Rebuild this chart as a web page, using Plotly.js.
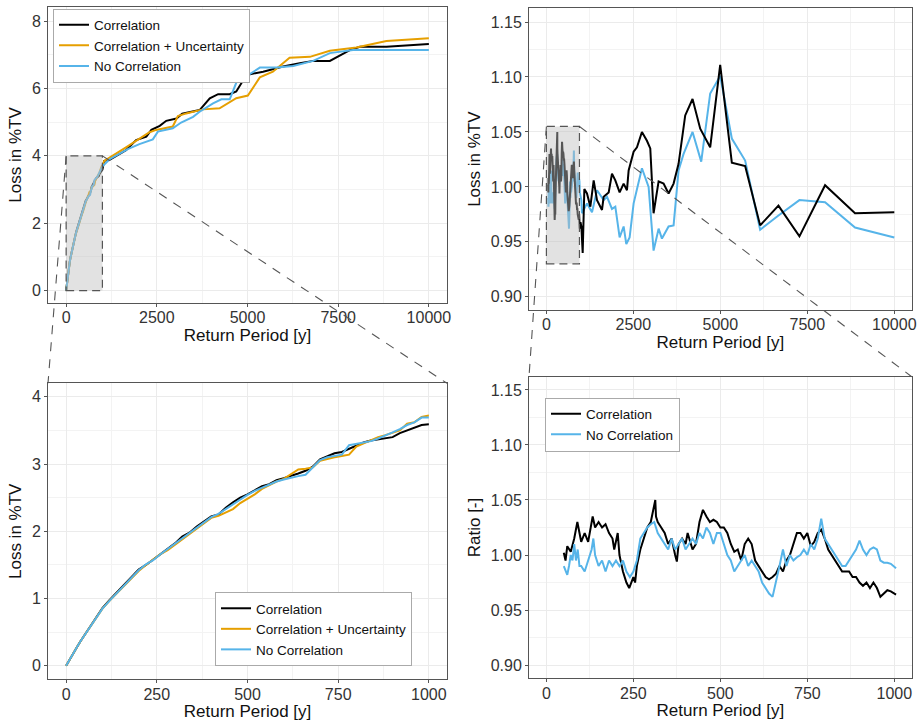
<!DOCTYPE html>
<html>
<head>
<meta charset="utf-8">
<script src="https://cdn.plot.ly/plotly-3.0.1.min.js"></script>
<style>html,body{margin:0;padding:0;background:#fff;}#chart{width:923px;height:724px;}</style>
</head>
<body>
<div id="chart"></div>
<script>
// ---------- Data ----------
var seriesNames = ["Correlation", "Correlation + Uncertainty", "No Correlation"];

// Loss curves 0-1000 y (bottom-left panel, also start of top-left panel)
var rpZoom = [0, 10, 20, 30, 40, 50, 60, 70, 80, 90, 100, 120, 140, 160, 180, 200, 220, 240, 260, 280, 300, 320, 340, 360, 380, 400, 420, 440, 460, 480, 500, 520, 540, 560, 580, 600, 620, 640, 660, 680, 700, 720, 740, 760, 780, 800, 820, 840, 860, 880, 900, 920, 940, 960, 980, 1000];
var lossCorrZoom = [0, 0.10, 0.19, 0.28, 0.37, 0.45, 0.54, 0.63, 0.71, 0.79, 0.86, 0.98, 1.09, 1.20, 1.31, 1.43, 1.50, 1.58, 1.66, 1.75, 1.82, 1.92, 1.98, 2.07, 2.14, 2.22, 2.25, 2.35, 2.43, 2.50, 2.55, 2.61, 2.67, 2.70, 2.76, 2.79, 2.82, 2.86, 2.90, 2.96, 3.07, 3.12, 3.16, 3.18, 3.23, 3.28, 3.32, 3.35, 3.37, 3.38, 3.40, 3.46, 3.50, 3.53, 3.58, 3.59];
var lossUncZoom = [0, 0.10, 0.19, 0.28, 0.37, 0.45, 0.54, 0.62, 0.70, 0.78, 0.85, 0.97, 1.08, 1.18, 1.30, 1.41, 1.50, 1.58, 1.66, 1.72, 1.80, 1.87, 1.96, 2.04, 2.12, 2.20, 2.23, 2.28, 2.33, 2.42, 2.48, 2.55, 2.63, 2.69, 2.74, 2.78, 2.85, 2.92, 2.93, 2.95, 3.05, 3.08, 3.10, 3.12, 3.14, 3.26, 3.31, 3.35, 3.40, 3.43, 3.46, 3.50, 3.60, 3.62, 3.70, 3.72];
var lossNoCorrZoom = [0, 0.10, 0.19, 0.28, 0.37, 0.45, 0.54, 0.62, 0.70, 0.78, 0.85, 0.97, 1.08, 1.19, 1.30, 1.42, 1.51, 1.57, 1.66, 1.74, 1.81, 1.90, 1.97, 2.06, 2.13, 2.21, 2.26, 2.33, 2.41, 2.48, 2.54, 2.60, 2.65, 2.69, 2.74, 2.77, 2.80, 2.82, 2.84, 2.95, 3.06, 3.10, 3.12, 3.14, 3.28, 3.30, 3.32, 3.34, 3.38, 3.42, 3.47, 3.52, 3.58, 3.62, 3.69, 3.69];

// Loss curves beyond 1000 y (top-left panel)
var rpCorrTail = [1050, 1200, 1650, 1930, 2210, 2350, 2580, 2760, 3040, 3200, 3680, 3960, 4190, 4510, 4690, 4970, 5430, 5980, 6440, 6810, 7270, 7820, 8100, 8830, 10000];
var lossCorrTail = [3.85, 3.88, 4.17, 4.47, 4.57, 4.77, 4.89, 5.04, 5.11, 5.25, 5.36, 5.71, 5.83, 5.83, 5.91, 6.40, 6.50, 6.65, 6.75, 6.82, 6.82, 7.14, 7.24, 7.24, 7.32];
var rpUncTail = [1050, 1650, 2300, 2480, 2940, 3080, 3310, 3770, 4230, 4690, 5010, 5340, 5700, 6160, 6720, 7270, 8000, 8830, 10000];
var lossUncTail = [3.85, 4.25, 4.70, 4.77, 4.87, 5.18, 5.26, 5.38, 5.41, 5.71, 5.79, 6.33, 6.50, 6.91, 6.94, 7.12, 7.22, 7.41, 7.49];
var rpNoCorrTail = [1200, 1700, 2020, 2390, 2530, 2940, 3170, 3500, 3680, 4050, 4280, 4510, 4690, 5010, 5340, 5800, 6260, 6810, 7270, 7910, 10000];
var lossNoCorrTail = [3.90, 4.20, 4.35, 4.49, 4.72, 4.82, 4.99, 5.16, 5.31, 5.56, 5.68, 5.68, 6.17, 6.40, 6.62, 6.62, 6.67, 6.82, 7.05, 7.14, 7.14];

// Ratio curves 50-1000 y (bottom-right panel, also start of top-right panel)
var rpRatioCorr = [50, 55, 60, 70, 80, 89, 100, 110, 120, 133, 140, 150, 160, 170, 180, 190, 195, 205, 210, 220, 230, 238, 250, 255, 260, 270, 280, 290, 300, 313, 315, 320, 330, 340, 350, 360, 370, 375, 380, 390, 400, 406, 420, 430, 440, 450, 460, 470, 480, 490, 500, 510, 520, 530, 540, 550, 560, 570, 580, 590, 600, 610, 620, 630, 640, 650, 660, 670, 680, 690, 700, 710, 720, 730, 740, 750, 760, 770, 780, 790, 800, 810, 820, 830, 840, 850, 860, 870, 880, 890, 900, 910, 920, 930, 940, 950, 960, 970, 980, 990, 1005];
var ratioCorr = [1.002, 0.995, 1.008, 1.003, 1.015, 1.030, 1.012, 1.020, 1.012, 1.035, 1.025, 1.030, 1.025, 1.028, 1.020, 1.015, 1.005, 1.020, 1.000, 0.985, 0.975, 0.970, 0.980, 0.975, 0.990, 1.005, 1.015, 1.025, 1.030, 1.050, 1.035, 1.030, 1.025, 1.020, 1.010, 1.015, 1.000, 0.994, 1.010, 1.015, 1.010, 1.020, 1.005, 1.010, 1.030, 1.041, 1.035, 1.030, 1.032, 1.030, 1.025, 1.025, 1.020, 1.010, 1.003, 1.005, 0.995, 1.010, 1.015, 1.010, 0.995, 0.990, 0.985, 0.980, 0.978, 0.980, 0.983, 0.990, 0.985, 0.995, 1.000, 1.010, 1.020, 1.020, 1.015, 1.020, 1.008, 1.012, 1.020, 1.023, 1.015, 1.005, 1.000, 0.995, 0.990, 0.985, 0.985, 0.985, 0.980, 0.980, 0.975, 0.972, 0.975, 0.970, 0.975, 0.970, 0.962, 0.965, 0.968, 0.967, 0.964];
var rpRatioNoCorr = [50, 55, 60, 65, 70, 75, 80, 85, 90, 95, 100, 110, 120, 130, 135, 140, 150, 160, 170, 180, 190, 200, 210, 220, 230, 240, 250, 260, 270, 280, 290, 300, 310, 320, 330, 340, 350, 360, 370, 380, 390, 400, 410, 420, 430, 440, 450, 460, 470, 480, 490, 500, 510, 520, 530, 540, 550, 560, 570, 580, 590, 600, 610, 620, 630, 640, 650, 660, 670, 680, 690, 700, 710, 720, 730, 740, 750, 760, 770, 780, 790, 800, 810, 820, 830, 840, 850, 860, 870, 880, 890, 900, 910, 920, 930, 940, 950, 960, 970, 980, 990, 1005];
var ratioNoCorr = [0.990, 0.985, 0.982, 0.990, 1.000, 0.995, 1.010, 0.995, 1.005, 0.990, 0.990, 0.985, 0.995, 1.005, 1.015, 1.000, 0.990, 0.995, 0.985, 0.995, 0.990, 0.995, 0.990, 0.995, 0.985, 0.980, 0.985, 0.995, 1.015, 1.020, 1.025, 1.028, 1.030, 1.020, 1.015, 1.010, 1.005, 1.015, 1.005, 1.010, 1.015, 1.005, 1.010, 1.015, 1.010, 1.020, 1.015, 1.025, 1.020, 1.010, 1.020, 1.020, 1.010, 1.000, 0.995, 0.985, 0.990, 0.995, 1.000, 0.990, 0.995, 0.990, 0.985, 0.975, 0.970, 0.965, 0.962, 0.975, 0.990, 1.005, 0.990, 1.000, 0.995, 0.998, 1.000, 1.005, 1.000, 1.010, 1.005, 1.015, 1.033, 1.015, 1.010, 1.005, 1.000, 0.995, 0.990, 0.990, 0.995, 1.000, 1.005, 1.013, 1.005, 1.000, 1.005, 1.007, 1.005, 0.995, 0.993, 0.993, 0.992, 0.988];

// Ratio curves beyond 1000 y (top-right panel)
var rpRatioCorrTail = [1043, 1091, 1167, 1263, 1359, 1455, 1598, 1646, 1790, 1885, 1981, 2105, 2220, 2316, 2364, 2507, 2603, 2746, 2890, 2986, 3081, 3225, 3368, 3512, 3656, 3799, 3990, 4201, 4421, 4708, 4995, 5330, 5713, 6144, 6670, 7273, 8010, 8871, 10000];
var ratioCorrTail = [0.940, 0.998, 0.994, 0.982, 1.006, 0.988, 0.979, 0.991, 0.995, 1.012, 1.006, 0.995, 1.003, 0.997, 1.015, 1.032, 1.036, 1.050, 1.042, 1.035, 0.976, 1.005, 1.003, 0.994, 1.003, 1.021, 1.065, 1.080, 1.053, 1.036, 1.111, 1.022, 1.019, 0.965, 0.983, 0.955, 1.0015, 0.976, 0.977];
var rpRatioNoCorrTail = [1024, 1167, 1311, 1455, 1646, 1742, 1885, 1981, 2105, 2220, 2297, 2392, 2507, 2746, 2938, 3081, 3225, 3321, 3512, 3656, 3799, 3943, 4201, 4450, 4708, 4995, 5330, 5713, 6144, 6670, 7273, 8010, 8871, 10000];
var ratioNoCorrTail = [0.976, 0.985, 0.977, 0.997, 0.988, 0.991, 0.980, 0.982, 0.954, 0.964, 0.948, 0.954, 0.985, 1.017, 1.000, 0.942, 0.962, 0.953, 0.964, 0.965, 1.015, 1.030, 1.050, 1.023, 1.085, 1.101, 1.044, 1.024, 0.961, 0.974, 0.988, 0.986, 0.963, 0.954];

// Zoom windows (data coords)
var zoomBoxLoss = {x0: 0, x1: 1000, y0: 0, y1: 4};
var zoomBoxRatio = {x0: 0, x1: 950, y0: 0.93, y1: 1.055};

var colors = {corr: "#000000", unc: "#E69F00", nocorr: "#56B4E9"};

// ---------- Traces ----------
function line(x, y, name, color, xa, ya, legend, show) {
  return {x: x, y: y, name: name, type: "scatter", mode: "lines",
    line: {color: color, width: 2}, xaxis: xa, yaxis: ya,
    legend: legend, showlegend: show, hoverinfo: "skip"};
}
var data = [
  line(rpZoom.concat(rpCorrTail), lossCorrZoom.concat(lossCorrTail), seriesNames[0], colors.corr, "x", "y", "legend", true),
  line(rpZoom.concat(rpUncTail), lossUncZoom.concat(lossUncTail), seriesNames[1], colors.unc, "x", "y", "legend", true),
  line(rpZoom.concat(rpNoCorrTail), lossNoCorrZoom.concat(lossNoCorrTail), seriesNames[2], colors.nocorr, "x", "y", "legend", true),

  line(rpRatioNoCorr.concat(rpRatioNoCorrTail), ratioNoCorr.concat(ratioNoCorrTail), seriesNames[2], colors.nocorr, "x2", "y2", "legend", false),
  line(rpRatioCorr.concat(rpRatioCorrTail), ratioCorr.concat(ratioCorrTail), seriesNames[0], colors.corr, "x2", "y2", "legend", false),

  line(rpZoom, lossCorrZoom, seriesNames[0], colors.corr, "x3", "y3", "legend2", true),
  line(rpZoom, lossUncZoom, seriesNames[1], colors.unc, "x3", "y3", "legend2", true),
  line(rpZoom, lossNoCorrZoom, seriesNames[2], colors.nocorr, "x3", "y3", "legend2", true),

  line(rpRatioCorr, ratioCorr, seriesNames[0], colors.corr, "x4", "y4", "legend3", true),
  line(rpRatioNoCorr, ratioNoCorr, seriesNames[2], colors.nocorr, "x4", "y4", "legend3", true)
];

// ---------- Layout ----------
var W = 923, H = 724;
var font = "Liberation Sans, Arial, Helvetica, sans-serif";
var domL = [48 / W, 447 / W], domR = [529 / W, 911.7 / W];
var domTL = [1 - 303 / H, 1 - 7 / H], domTR = [1 - 310 / H, 1 - 8.3 / H];
var domBL = [1 - 679.3 / H, 1 - 383.3 / H], domBR = [1 - 678.3 / H, 1 - 376.7 / H];

function ax(domain, range, dtick, minor, title, anchor, fmt, standoff, labelShift) {
  return {
    domain: domain, range: range, anchor: anchor, autorange: false,
    dtick: dtick, tick0: 0, tickformat: fmt,
    showgrid: true, gridcolor: "#ebebeb", gridwidth: 1,
    minor: {dtick: minor, tick0: 0, showgrid: true, gridcolor: "#f3f3f3", gridwidth: 1},
    zeroline: false, showline: true, mirror: true, linecolor: "#555555", linewidth: 1,
    ticks: "outside", ticklen: 3, tickcolor: "#555555", tickwidth: 1,
    ticklabelstandoff: labelShift,
    tickfont: {family: font, size: 16, color: "#333333"},
    title: {text: title, font: {family: font, size: 17, color: "#111111"}, standoff: standoff},
    fixedrange: true
  };
}

var legendStyle = {bgcolor: "#ffffff", bordercolor: "#aaaaaa", borderwidth: 1,
  font: {family: font, size: 13.5, color: "#111111"}, itemwidth: 30, traceorder: "normal",
  xanchor: "left", yanchor: "middle"};
function legendAt(x, y) {
  var l = JSON.parse(JSON.stringify(legendStyle));
  l.x = x; l.y = y;
  return l;
}

var layout = {
  width: W, height: H,
  margin: {l: 0, r: 0, t: 0, b: 0},
  paper_bgcolor: "#ffffff", plot_bgcolor: "#ffffff",
  font: {family: font},
  xaxis: ax(domL, [-500, 10500], 2500, 1250, "Return Period [y]", "y", "d", 1, -3),
  yaxis: ax(domTL, [-0.37, 8.42], 2, 1, "Loss in %TV", "x", "d", 5, 0),
  xaxis2: ax(domR, [-500, 10500], 2500, 1250, "Return Period [y]", "y2", "d", 1, -3),
  yaxis2: ax(domTR, [0.888, 1.1625], 0.05, 0.025, "Loss in %TV", "x2", ".2f", 5, 0),
  xaxis3: ax(domL, [-50, 1050], 250, 125, "Return Period [y]", "y3", "d", 1, -3),
  yaxis3: ax(domBL, [-0.2, 4.2], 1, 0.5, "Loss in %TV", "x3", "d", 5, 0),
  xaxis4: ax(domR, [-50, 1050], 250, 125, "Return Period [y]", "y4", "d", 1, -3),
  yaxis4: ax(domBR, [0.888, 1.162], 0.05, 0.025, "Ratio [-]", "x4", ".2f", 5, 0),
  legend: legendAt(53 / W, 1 - 45.5 / H),
  legend2: legendAt(215 / W, 1 - 629 / H),
  legend3: legendAt(545 / W, 1 - 424.5 / H),
  showlegend: true,
  shapes: []
};

// Map a data value to paper coordinates through an axis' range and domain
function toPaper(axis, v) {
  return axis.domain[0] + (v - axis.range[0]) / (axis.range[1] - axis.range[0]) * (axis.domain[1] - axis.domain[0]);
}

function zoomShapes(box, xa, ya, xName, yName, tgtX, tgtY) {
  var s = [];
  s.push({type: "rect", xref: xName, yref: yName, x0: box.x0, x1: box.x1, y0: box.y0, y1: box.y1,
    fillcolor: "rgba(190,190,190,0.45)", line: {color: "#555555", width: 1.2, dash: "8px,5px"}, layer: "above"});
  var top = tgtY.domain[1];
  var px0 = toPaper(xa, box.x0), px1 = toPaper(xa, box.x1), py = toPaper(ya, box.y1);
  s.push({type: "line", xref: "paper", yref: "paper", x0: px0, y0: py, x1: tgtX.domain[0], y1: top,
    line: {color: "#555555", width: 1.1, dash: "9px,8px"}, layer: "above"});
  s.push({type: "line", xref: "paper", yref: "paper", x0: px1, y0: py, x1: tgtX.domain[1], y1: top,
    line: {color: "#555555", width: 1.1, dash: "9px,8px"}, layer: "above"});
  return s;
}
layout.shapes = layout.shapes
  .concat(zoomShapes(zoomBoxLoss, layout.xaxis, layout.yaxis, "x", "y", layout.xaxis3, layout.yaxis3))
  .concat(zoomShapes(zoomBoxRatio, layout.xaxis2, layout.yaxis2, "x2", "y2", layout.xaxis4, layout.yaxis4));

Plotly.newPlot("chart", data, layout, {displayModeBar: false, staticPlot: true});
</script>
</body>
</html>
